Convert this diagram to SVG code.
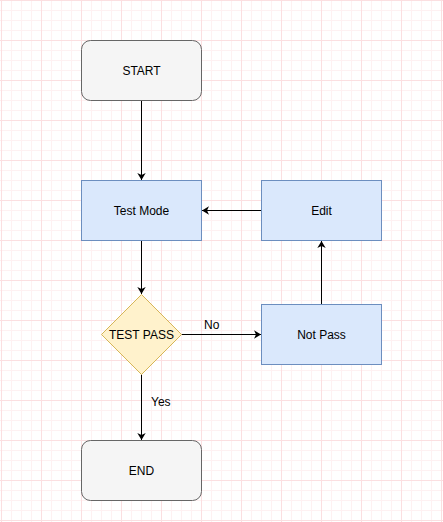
<svg xmlns="http://www.w3.org/2000/svg" width="443" height="522" viewBox="0 0 443 522">
<style>
text{font-family:"Liberation Sans",Arial,Helvetica,sans-serif;font-size:12px;fill:#000;}
.c{text-anchor:middle;}
.term{fill:#f5f5f5;stroke:#666666;stroke-width:1;}
.proc{fill:#dae8fc;stroke:#6c8ebf;stroke-width:1;}
.dec{fill:#fff2cc;stroke:#d6b656;stroke-width:1;}
.edge{fill:none;stroke:#000;stroke-width:1;marker-end:url(#arr);}
</style>
<defs>
<pattern id="grid" patternUnits="userSpaceOnUse" x="1" y="0" width="40" height="40">
<rect x="10" y="0" width="1" height="40" fill="#fef1f2"/>
<rect x="20" y="0" width="1" height="40" fill="#fef1f2"/>
<rect x="30" y="0" width="1" height="40" fill="#fef1f2"/>
<rect x="0" y="10" width="40" height="1" fill="#fef1f2"/>
<rect x="0" y="20" width="40" height="1" fill="#fef1f2"/>
<rect x="0" y="30" width="40" height="1" fill="#fef1f2"/>
<rect x="0" y="0" width="1" height="40" fill="#fbdfe1"/>
<rect x="0" y="0" width="40" height="1" fill="#fbdfe1"/>
</pattern>
<marker id="arr" markerUnits="userSpaceOnUse" viewBox="0 0 7 9" refX="7" refY="4.5" markerWidth="7" markerHeight="9" orient="auto">
<path d="M0,0.3 L7,4.5 L0,8.7 L2,4.5 Z" fill="#000"/>
</marker>
</defs>
<rect x="0" y="0" width="443" height="522" fill="#ffffff"/>
<rect x="0" y="0" width="443" height="522" fill="url(#grid)"/>
<g id="connectors">
<path class="edge" d="M141.5,100.5 L141.5,180"/>
<path class="edge" d="M141.5,240.5 L141.5,294"/>
<path class="edge" d="M141.5,374.5 L141.5,440"/>
<path class="edge" d="M181.5,334.5 L261,334.5"/>
<path class="edge" d="M321.5,304.5 L321.5,241"/>
<path class="edge" d="M261.5,210.5 L202,210.5"/>
<text x="204" y="329">No</text>
<text x="151" y="406">Yes</text>
</g>
<g id="start">
<rect class="term" x="81.5" y="40.5" width="120" height="60" rx="9" ry="9"/>
<text class="c" x="141.5" y="75">START</text>
</g>
<g id="testmode">
<rect class="proc" x="81.5" y="180.5" width="120" height="60"/>
<text class="c" x="141.5" y="215">Test Mode</text>
</g>
<g id="edit">
<rect class="proc" x="261.5" y="180.5" width="120" height="60"/>
<text class="c" x="321.5" y="215">Edit</text>
</g>
<g id="testpass">
<path class="dec" d="M141.5,294.5 L181.5,334.5 L141.5,374.5 L101.5,334.5 Z"/>
<text class="c" x="141.5" y="339">TEST PASS</text>
</g>
<g id="notpass">
<rect class="proc" x="261.5" y="304.5" width="120" height="60"/>
<text class="c" x="321.5" y="339">Not Pass</text>
</g>
<g id="end">
<rect class="term" x="81.5" y="440.5" width="120" height="60" rx="9" ry="9"/>
<text class="c" x="141.5" y="475">END</text>
</g>
</svg>
